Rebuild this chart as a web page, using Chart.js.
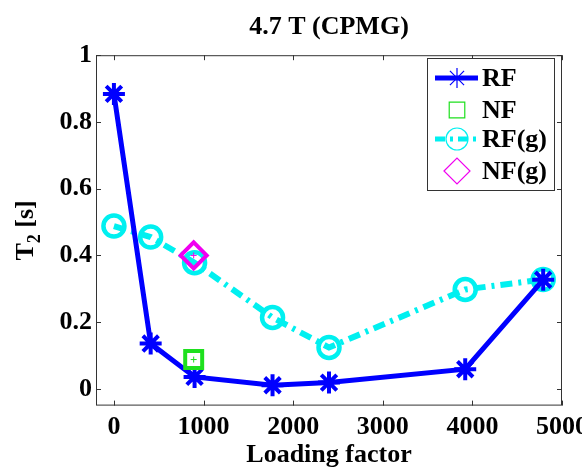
<!DOCTYPE html>
<html>
<head>
<meta charset="utf-8">
<script src="https://cdn.jsdelivr.net/npm/chart.js@4.4.1/dist/chart.umd.min.js"></script>
<style>
    html, body { margin: 0; padding: 0; background: #fff; }
    canvas { display: block; }
</style>
</head>
<body>
<canvas id="t2Chart" width="582" height="468"></canvas>
<script>
// values
const loadingFactor = [0, 410, 900, 1770, 2400, 3920, 4790];
const t2RF = [0.884, 0.136, 0.036, 0.011, 0.019, 0.059, 0.327];
const t2RFg = [0.488, 0.455, 0.378, 0.214, 0.124, 0.298, 0.328];
const nfLoading = [890];
const t2NF = [0.088];
const t2NFg = [0.40];
const xTicks = [0, 1000, 2000, 3000, 4000, 5000];
const yTicks = [0, 0.2, 0.4, 0.6, 0.8, 1];
const legendLabels = ["RF", "NF", "RF(g)", "NF(g)"];

const SERIF = "'Liberation Serif', 'Times New Roman', serif";
const BLUE = "#0000ff", GREEN = "#1ee01e", CYAN = "#00f0f0", MAGENTA = "#f000f0";

const toPoints = (xs, ys) => xs.map((x, i) => ({x: x, y: ys[i]}));

// box round the axes with inward ticks, like the original figure
const boxTicks = {
    id: "boxTicks",
    beforeDatasetsDraw(chart) {
        const {ctx, chartArea: a, scales: {x, y}} = chart;
        ctx.save();
        ctx.strokeStyle = "#333";
        ctx.lineWidth = 1;
        ctx.strokeRect(a.left + 0.5, a.top + 0.5, a.right - a.left - 1, a.bottom - a.top - 1);
        ctx.beginPath();
        xTicks.forEach(v => {
            const px = Math.round(x.getPixelForValue(v)) + 0.5;
            ctx.moveTo(px, a.bottom); ctx.lineTo(px, a.bottom - 5);
            ctx.moveTo(px, a.top); ctx.lineTo(px, a.top + 5);
        });
        yTicks.forEach(v => {
            const py = Math.round(y.getPixelForValue(v)) + 0.5;
            ctx.moveTo(a.left, py); ctx.lineTo(a.left + 5, py);
            ctx.moveTo(a.right, py); ctx.lineTo(a.right - 5, py);
        });
        ctx.stroke();
        ctx.restore();
    }
};

// y title with a real subscript
const yTitle = {
    id: "yTitle",
    afterDraw(chart) {
        const ctx = chart.ctx;
        const a = chart.chartArea;
        ctx.save();
        ctx.translate(33, (a.top + a.bottom) / 2);
        ctx.rotate(-Math.PI / 2);
        ctx.fillStyle = "#000";
        ctx.textBaseline = "alphabetic";
        const big = "bold 26px " + SERIF, small = "bold 18px " + SERIF;
        ctx.font = big; const wT = ctx.measureText("T").width; const wS = ctx.measureText(" [s]").width;
        ctx.font = small; const w2 = ctx.measureText("2").width;
        let xx = -(wT + w2 + wS) / 2;
        ctx.font = big; ctx.fillText("T", xx, 0); xx += wT;
        ctx.font = small; ctx.fillText("2", xx, 7); xx += w2;
        ctx.font = big; ctx.fillText(" [s]", xx, 0);
        ctx.restore();
    }
};

// MATLAB style legend box inside the axes
const boxLegend = {
    id: "boxLegend",
    afterDraw(chart) {
        const ctx = chart.ctx;
        const left = 427, top = 58, right = 554, bottom = 190;
        const rows = [78, 110, 139, 171];
        const styles = [
            {color: BLUE, line: 5, dash: [], point: "star", radius: 10},
            {color: GREEN, line: 0, dash: [], point: "rect", radius: 11},
            {color: CYAN, line: 5, dash: [10, 5, 3, 5], point: "circle", radius: 11},
            {color: MAGENTA, line: 0, dash: [], point: "rectRot", radius: 13}
        ];
        ctx.save();
        ctx.fillStyle = "#fff";
        ctx.fillRect(left, top, right - left, bottom - top);
        ctx.strokeStyle = "#333";
        ctx.lineWidth = 1;
        ctx.strokeRect(left + 0.5, top + 0.5, right - left, bottom - top);
        legendLabels.forEach((label, i) => {
            const s = styles[i], yy = rows[i];
            if (s.line) {
                ctx.strokeStyle = s.color;
                ctx.lineWidth = s.line;
                ctx.setLineDash(s.dash);
                ctx.beginPath(); ctx.moveTo(435, yy); ctx.lineTo(478, yy); ctx.stroke();
                ctx.setLineDash([]);
            }
            ctx.strokeStyle = s.color;
            ctx.fillStyle = "rgba(0,0,0,0)";
            ctx.lineWidth = 1.2;
            Chart.helpers.drawPoint(ctx, {pointStyle: s.point, radius: s.radius, borderWidth: 1.2, rotation: 0}, 457, yy);
            ctx.fillStyle = "#000";
            ctx.font = "bold 26px " + SERIF;
            ctx.textBaseline = "middle";
            ctx.fillText(label, 482, yy + 1);
        });
        ctx.restore();
    }
};

new Chart(document.getElementById("t2Chart").getContext("2d"), {
    type: "scatter",
    data: {
        datasets: [
            {
                label: "NF(g)",
                data: toPoints(nfLoading, t2NFg),
                borderColor: MAGENTA,
                backgroundColor: "rgba(0,0,0,0)",
                pointStyle: "rectRot",
                pointRadius: 13,
                borderWidth: 4,
                order: 0
            },
            {
                label: "NF(g) centre",
                data: toPoints(nfLoading, t2NFg),
                borderColor: MAGENTA,
                pointStyle: "cross",
                pointRadius: 3,
                borderWidth: 1,
                order: 0
            },
            {
                label: "NF",
                data: toPoints(nfLoading, t2NF),
                borderColor: GREEN,
                backgroundColor: "rgba(0,0,0,0)",
                pointStyle: "rect",
                pointRadius: 12,
                borderWidth: 4,
                order: 1
            },
            {
                label: "NF centre",
                data: toPoints(nfLoading, t2NF),
                borderColor: GREEN,
                pointStyle: "cross",
                pointRadius: 3,
                borderWidth: 1,
                order: 1
            },
            {
                label: "RF",
                data: toPoints(loadingFactor, t2RF),
                showLine: true,
                borderColor: BLUE,
                backgroundColor: BLUE,
                borderWidth: 5,
                pointStyle: "star",
                pointRadius: 11,
                pointBorderWidth: 4,
                order: 2
            },
            {
                label: "RF(g)",
                data: toPoints(loadingFactor, t2RFg),
                showLine: true,
                borderColor: CYAN,
                backgroundColor: "rgba(0,0,0,0)",
                borderWidth: 6,
                borderDash: [12, 6, 3, 6],
                pointStyle: "circle",
                pointRadius: 10.5,
                pointBorderWidth: 4.5,
                order: 3
            }
        ]
    },
    options: {
        responsive: false,
        animation: false,
        layout: { padding: { left: 0, right: 20, top: 0, bottom: 0 } },
        plugins: {
            legend: { display: false },
            tooltip: { enabled: false },
            title: {
                display: true,
                text: "4.7 T (CPMG)",
                fullSize: false,
                color: "#000",
                font: { family: SERIF, size: 26, weight: "bold" },
                padding: { top: 12, bottom: 12 }
            }
        },
        scales: {
            x: {
                type: "linear",
                min: -200,
                max: 5000,
                grid: { display: false, drawTicks: false },
                border: { display: false },
                afterBuildTicks: s => { s.ticks = xTicks.map(v => ({value: v})); },
                afterFit: s => { s.height = 62.4; s.paddingRight = 0; s.paddingLeft = 0; },
                ticks: {
                    color: "#000",
                    padding: 6,
                    maxRotation: 0,
                    autoSkip: false,
                    font: { family: SERIF, size: 26, weight: "bold" },
                    callback: v => String(v)
                },
                title: {
                    display: true,
                    text: "Loading factor",
                    color: "#000",
                    padding: { top: 0, bottom: 0 },
                    font: { family: SERIF, size: 26, weight: "bold", lineHeight: 1 }
                }
            },
            y: {
                type: "linear",
                min: -0.05,
                max: 1,
                grid: { display: false, drawTicks: false },
                border: { display: false },
                afterBuildTicks: s => { s.ticks = yTicks.map(v => ({value: v})); },
                afterFit: s => { s.width = 96; s.paddingTop = 0; s.paddingBottom = 0; },
                ticks: {
                    color: "#000",
                    padding: 4,
                    font: { family: SERIF, size: 26, weight: "bold" },
                    callback: v => String(Math.round(v * 10) / 10)
                }
            }
        }
    },
    plugins: [boxTicks, yTitle, boxLegend]
});
</script>
</body>
</html>
